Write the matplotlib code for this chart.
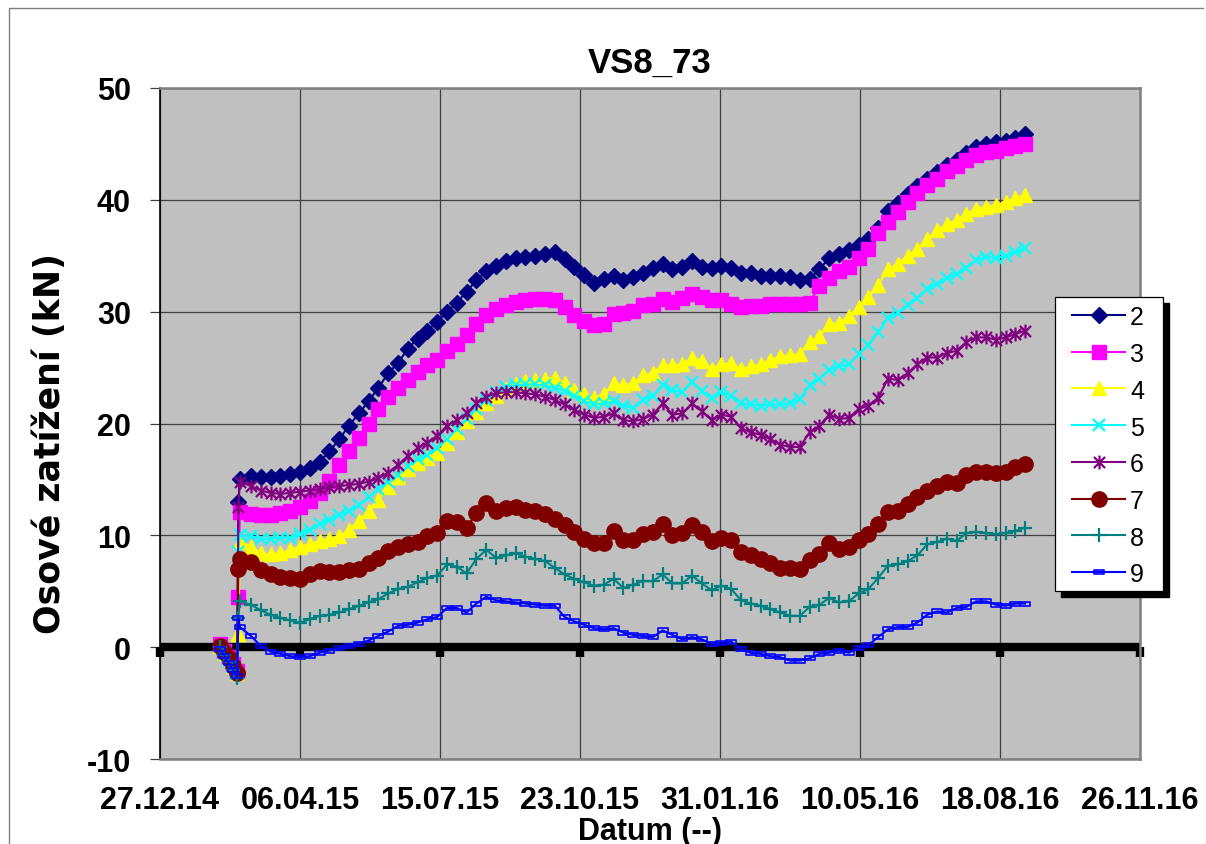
import matplotlib
matplotlib.use('Agg')
import matplotlib.pyplot as plt
import matplotlib.dates as mdates
import numpy as np
import pandas as pd
from matplotlib.path import Path
from matplotlib.lines import Line2D
from matplotlib.patches import Rectangle
from matplotlib.transforms import Affine2D

plt.rcParams['font.family'] = ['Liberation Sans', 'DejaVu Sans']
plt.rcParams['font.weight'] = 'bold'
plt.rcParams['axes.unicode_minus'] = False

# ---------------- data ----------------
early_dates = ['2015-02-08', '2015-02-11', '2015-02-14', '2015-02-17',
               '2015-02-20', '2015-02-21', '2015-02-22']
weekly_dates = pd.date_range('2015-03-02', periods=80, freq='7D')
dates = pd.to_datetime(early_dates).append(weekly_dates)

s2 = [0.2, -0.4, -1.0, -1.6, -2.2, 13.0, 15.0,
      15.3, 15.2, 15.2, 15.3, 15.5, 15.7, 16.0, 16.6, 17.5, 18.6,
      19.8, 20.9, 22.0, 23.2, 24.5, 25.4, 26.7, 27.6, 28.3, 29.1,
      30.0, 30.8, 31.8, 32.8, 33.6, 34.1, 34.5, 34.8, 34.9, 35.0,
      35.2, 35.3, 34.7, 34.0, 33.3, 32.6, 32.9, 33.2, 32.8, 33.1,
      33.5, 33.9, 34.3, 33.8, 34.0, 34.5, 34.0, 33.9, 34.1, 33.9,
      33.5, 33.5, 33.2, 33.2, 33.2, 33.1, 32.8, 32.9, 33.8, 34.8,
      35.2, 35.5, 36.0, 36.5, 37.5, 39.0, 39.7, 40.5, 41.2, 41.9,
      42.5, 43.1, 43.6, 44.2, 44.7, 45.0, 45.2, 45.3, 45.5, 45.9]
s3 = [0.3, -0.3, -0.9, -1.5, -2.1, 4.5, 12.1,
      11.9, 11.8, 11.8, 12.0, 12.2, 12.5, 13.1, 13.8, 14.9, 16.3,
      17.5, 18.7, 20.0, 21.3, 22.4, 23.2, 23.9, 24.6, 25.2, 25.7,
      26.5, 27.1, 27.9, 28.9, 29.7, 30.2, 30.6, 30.9, 31.0, 31.1,
      31.1, 31.0, 30.4, 29.7, 29.2, 28.8, 28.9, 29.8, 29.9, 30.1,
      30.6, 30.7, 31.1, 30.9, 31.2, 31.6, 31.3, 31.0, 31.0, 30.7,
      30.4, 30.5, 30.5, 30.7, 30.7, 30.7, 30.7, 30.8, 32.3, 33.0,
      33.6, 34.0, 34.8, 35.6, 37.0, 38.0, 38.9, 39.8, 40.6, 41.3,
      41.9, 42.6, 43.0, 43.6, 44.0, 44.3, 44.4, 44.6, 44.8, 45.0]
s4 = [0.1, -0.5, -1.1, -1.7, -2.3, 1.2, 9.4,
      9.0, 8.4, 8.3, 8.4, 8.7, 9.0, 9.2, 9.5, 9.7, 9.9,
      10.5, 11.3, 12.2, 13.2, 14.3, 15.2, 15.9, 16.5, 16.9, 17.4,
      18.3, 19.2, 20.2, 21.0, 21.8, 22.5, 23.1, 23.5, 23.8, 23.9,
      24.0, 24.1, 23.6, 23.0, 22.6, 22.3, 22.6, 23.6, 23.4, 23.6,
      24.3, 24.5, 25.2, 25.2, 25.3, 25.9, 25.6, 24.9, 25.3, 25.4,
      24.9, 25.1, 25.3, 25.7, 26.0, 26.1, 26.2, 27.3, 27.8, 28.9,
      29.0, 29.6, 30.4, 31.3, 32.4, 33.8, 34.3, 35.0, 35.6, 36.5,
      37.3, 37.8, 38.2, 38.7, 39.2, 39.4, 39.5, 39.8, 40.2, 40.4]
s5 = [0.0, -0.6, -1.2, -1.8, -2.4, 8.5, 10.0,
      9.9, 9.7, 9.7, 9.8, 9.8, 10.1, 10.5, 11.0, 11.4, 11.8,
      12.2, 12.7, 13.4, 14.1, 14.8, 15.4, 16.2, 16.8, 17.2, 17.8,
      18.6, 19.5, 20.4, 21.3, 22.1, 22.8, 23.3, 23.4, 23.5, 23.5,
      23.4, 23.2, 22.9, 22.5, 22.0, 21.7, 21.8, 22.0, 21.6, 21.4,
      22.1, 22.5, 23.4, 23.0, 22.8, 23.7, 22.9, 22.3, 22.8, 22.5,
      21.8, 21.7, 21.6, 21.7, 21.7, 21.8, 22.2, 23.4, 24.0, 24.8,
      25.1, 25.3, 26.2, 27.0, 28.2, 29.4, 29.9, 30.6, 31.2, 32.0,
      32.5, 33.0, 33.4, 33.9, 34.6, 34.9, 34.8, 35.0, 35.3, 35.7]
s6 = [0.2, -0.4, -1.0, -1.6, -2.2, 12.5, 14.8,
      14.4, 14.0, 13.8, 13.7, 13.8, 13.9, 14.0, 14.1, 14.3, 14.4,
      14.5, 14.6, 14.8, 15.1, 15.6, 16.3, 17.1, 17.8, 18.3, 18.9,
      19.8, 20.3, 20.9, 21.8, 22.4, 22.7, 22.8, 22.8, 22.7, 22.6,
      22.4, 22.1, 21.7, 21.2, 20.8, 20.5, 20.6, 20.9, 20.3, 20.2,
      20.4, 20.8, 21.8, 20.8, 20.9, 21.8, 21.1, 20.3, 20.8, 20.6,
      19.6, 19.2, 19.0, 18.6, 18.1, 17.9, 17.9, 19.2, 19.8, 20.8,
      20.4, 20.5, 21.3, 21.6, 22.3, 24.0, 23.9, 24.5, 25.3, 25.9,
      25.9, 26.3, 26.5, 27.3, 27.7, 27.7, 27.5, 27.7, 28.0, 28.3]
s7 = [0.1, -0.4, -1.0, -1.7, -2.3, 7.0, 7.9,
      7.6, 6.9, 6.5, 6.3, 6.2, 6.1, 6.5, 6.8, 6.7, 6.7,
      6.9, 7.0, 7.5, 8.0, 8.6, 9.0, 9.2, 9.4, 9.9, 10.2,
      11.3, 11.2, 10.7, 12.0, 12.9, 12.2, 12.4, 12.5, 12.3, 12.2,
      11.9, 11.5, 10.9, 10.3, 9.7, 9.3, 9.3, 10.4, 9.6, 9.6,
      10.1, 10.3, 11.0, 10.0, 10.2, 10.9, 10.3, 9.5, 9.8, 9.6,
      8.5, 8.2, 7.9, 7.5, 7.1, 7.1, 7.0, 7.8, 8.3, 9.3,
      8.8, 9.0, 9.6, 10.1, 11.0, 12.1, 12.2, 12.8, 13.4, 14.0,
      14.4, 14.8, 14.7, 15.4, 15.7, 15.7, 15.6, 15.7, 16.1, 16.4]
s8 = [0.0, -0.7, -1.3, -2.0, -2.8, 2.6, 4.1,
      3.8, 3.3, 2.9, 2.6, 2.4, 2.2, 2.5, 2.8, 2.9, 3.1,
      3.4, 3.7, 4.0, 4.3, 4.8, 5.2, 5.4, 5.8, 6.2, 6.4,
      7.4, 7.2, 6.6, 7.9, 8.7, 8.0, 8.2, 8.4, 8.1, 7.9,
      7.7, 7.1, 6.5, 6.1, 5.8, 5.5, 5.6, 6.1, 5.3, 5.6,
      5.9, 5.9, 6.5, 5.7, 5.7, 6.4, 5.7, 5.1, 5.5, 5.2,
      4.2, 3.9, 3.7, 3.4, 3.1, 2.8, 2.8, 3.6, 3.8, 4.4,
      4.0, 4.1, 4.8, 5.2, 6.2, 7.3, 7.4, 7.7, 8.2, 9.2,
      9.4, 9.7, 9.5, 10.2, 10.3, 10.2, 10.1, 10.2, 10.4, 10.7]
s9 = [-0.2, -0.8, -1.4, -2.0, -2.6, 2.6, 1.8,
      1.0, 0.1, -0.4, -0.6, -0.8, -0.9, -0.8, -0.5, -0.3, -0.1,
      0.1, 0.3, 0.6, 1.0, 1.4, 1.9, 2.0, 2.2, 2.5, 2.7,
      3.5, 3.5, 3.1, 3.9, 4.5, 4.2, 4.1, 4.0, 3.9, 3.8,
      3.7, 3.7, 2.7, 2.3, 2.0, 1.7, 1.6, 1.7, 1.3, 1.1,
      1.0, 0.9, 1.5, 1.1, 0.7, 0.9, 0.7, 0.3, 0.4, 0.5,
      -0.2, -0.5, -0.6, -0.8, -0.9, -1.2, -1.2, -1.0, -0.6, -0.5,
      -0.3, -0.5, -0.1, 0.2, 0.9, 1.6, 1.8, 1.8, 2.2, 2.9,
      3.2, 3.1, 3.5, 3.6, 4.1, 4.1, 3.8, 3.7, 3.9, 3.9]

series_names = ['2', '3', '4', '5', '6', '7', '8', '9']
series_values = [s2, s3, s4, s5, s6, s7, s8, s9]

x_start = '2014-12-27'
x_end = '2016-11-26'
x_ticks = pd.date_range(x_start, periods=8, freq='100D')
y_ticks = [-10, 0, 10, 20, 30, 40, 50]

title = 'VS8_73'
x_title = 'Datum (--)'
y_title = 'Osové zatížení (kN)'

# ---------------- styles ----------------
star = Path([(-1, -1), (1, 1), (-1, 1), (1, -1), (0, -1.25), (0, 1.25)],
            [Path.MOVETO, Path.LINETO, Path.MOVETO, Path.LINETO, Path.MOVETO, Path.LINETO])
dash = Path([(-1, -0.45), (1, -0.45), (1, 0.45), (-1, 0.45), (-1, -0.45)],
            [Path.MOVETO, Path.LINETO, Path.LINETO, Path.LINETO, Path.CLOSEPOLY])

styles = [
    dict(color='#000080', marker='D', ms=8, mew=1),
    dict(color='#FF00FF', marker='s', ms=10, mew=1),
    dict(color='#FFFF00', marker='^', ms=10.5, mew=1),
    dict(color='#00FFFF', marker='x', ms=9, mew=1.6),
    dict(color='#800080', marker=star, ms=10, mew=1.6),
    dict(color='#800000', marker='o', ms=11, mew=1),
    dict(color='#008080', marker='+', ms=10, mew=1.6),
    dict(color='#0000FF', marker=dash, ms=7.5, mew=1.2, mfc='none'),
]

W, H = 1206, 845
fig = plt.figure(figsize=(W / 100, H / 100), dpi=100)
fig.patch.set_facecolor('white')

L, R, T, B = 160, 1140, 89, 760
ax = fig.add_axes([L / W, 1 - B / H, (R - L) / W, (B - T) / H])
ax.set_facecolor('#C0C0C0')

for name, vals, st in zip(series_names, series_values, styles):
    ax.plot(dates, vals, color=st['color'], lw=1.5, marker=st['marker'],
            ms=st['ms'], mew=st['mew'], mec=st['color'],
            mfc=st.get('mfc', st['color']), zorder=3, clip_on=False)

ax.set_xlim(pd.Timestamp(x_start), pd.Timestamp(x_end))
ax.set_ylim(-10, 50)
ax.set_xticks(x_ticks)
ax.xaxis.set_major_formatter(mdates.DateFormatter('%d.%m.%y'))
ax.set_yticks(y_ticks)
ax.set_yticklabels([str(v) for v in y_ticks])
ax.grid(True, color='#404040', lw=0.9, zorder=0)
ax.set_axisbelow(True)

ax.tick_params(axis='x', length=0, pad=19, labelsize=22)
ax.tick_params(axis='y', length=7, width=0.9, color='#404040', pad=14, labelsize=22, direction='out')
for lbl in ax.get_xticklabels() + ax.get_yticklabels():
    lbl.set_fontweight('bold')

for side in ['top', 'right', 'bottom']:
    ax.spines[side].set_color('#808080')
    ax.spines[side].set_linewidth(1.8)
ax.spines['left'].set_color('black')
ax.spines['left'].set_linewidth(1.2)

# zero axis line with tick marks
ax.axhline(0, color='black', lw=6, zorder=2, solid_capstyle='butt')
ax.vlines(x_ticks, -0.85, 0, colors='black', lw=6, zorder=2, clip_on=False)

# titles
fig.text(650 / W, 1 - 73 / H, title, ha='center', va='baseline', fontsize=25, fontweight='bold')
fig.text(650 / W, 1 - 840 / H, x_title, ha='center', va='baseline', fontsize=22, fontweight='bold')
fig.text(50 / W, 1 - 443 / H, y_title, ha='center', va='center', rotation=90,
         fontsize=25, fontweight='bold', family=['DejaVu Sans'])

# figure border
pix = Affine2D().scale(1 / W, -1 / H).translate(0, 1) + fig.transFigure
fig.add_artist(Line2D([9, 9, 1203], [845, 9, 9], transform=pix, color='#808080', lw=1))

# legend (manual, Excel style with shadow)
lx0, ly0, lx1, ly1 = 1055, 298, 1163, 592
fig.add_artist(Rectangle((lx0 + 6, ly0 + 6), lx1 - lx0, ly1 - ly0, transform=pix,
                         facecolor='black', edgecolor='black', zorder=5))
fig.add_artist(Rectangle((lx0, ly0), lx1 - lx0, ly1 - ly0, transform=pix,
                         facecolor='white', edgecolor='black', lw=0.9, zorder=6))
for i, (name, st) in enumerate(zip(series_names, styles)):
    yc = 316 + 36.7 * i
    fig.add_artist(Line2D([1072, 1098.5, 1125], [yc, yc, yc], transform=pix,
                          color=st['color'], lw=1.5, marker=st['marker'], markevery=[1],
                          ms=st['ms'], mew=st['mew'], mec=st['color'],
                          mfc=st.get('mfc', st['color']), zorder=7))
    fig.text(1130 / W, 1 - yc / H, name, ha='left', va='center_baseline', fontsize=18,
             fontweight='normal', zorder=7)

fig.savefig('out.png', dpi=100)
